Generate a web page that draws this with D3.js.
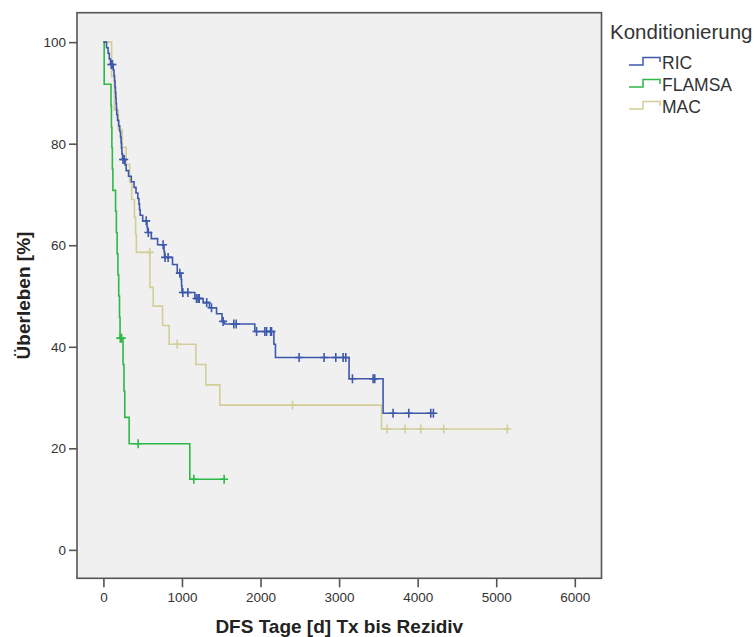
<!DOCTYPE html>
<html>
<head>
<meta charset="utf-8">
<script src="https://cdn.jsdelivr.net/npm/d3@7"></script>
<style>
  html, body { margin: 0; padding: 0; background: #ffffff; }
  svg { display: block; font-family: "Liberation Sans", Arial, sans-serif; }
</style>
</head>
<body>
<svg id="chart" width="754" height="637"></svg>
<script>
// Kaplan-Meier curves: disease-free survival by conditioning regimen.
// Each group: event times (days), survival after each event (%), censoring times, last follow-up.

const groupNames = ["RIC", "FLAMSA", "MAC"];
const groupColors = ["#3E58AC", "#2EB848", "#D3CE97"];

const ricTimes = [40, 60, 75, 90, 125, 135, 142, 148, 153, 158, 162, 166, 170, 180, 195, 208, 218, 225, 230, 236, 244,
  275, 290, 320, 355, 390, 415, 438, 452, 460, 468, 500, 555, 562, 610, 690, 772, 778, 880, 940, 990, 995, 1000,
  1164, 1270, 1350, 1440, 1510, 1540, 1927, 2170, 2190, 3127, 3560];
const ricSurv = [98.9, 97.8, 96.7, 95.6, 94.5, 93.4, 92.3, 91.2, 90.1, 89.0, 87.9, 86.8, 85.7, 84.6, 83.5, 82.4, 81.3, 80.2, 79.1, 78.0, 76.9,
  75.8, 74.7, 73.6, 72.5, 71.4, 70.3, 69.2, 68.1, 67.0, 65.9, 64.8, 63.6, 62.5, 61.3, 60.1, 58.8, 57.6, 56.2, 54.5, 53.3, 52.0, 50.7,
  49.5, 48.7, 47.7, 46.5, 45.0, 44.5, 43.0, 40.5, 37.9, 33.7, 26.9];
const ricCensored = [100, 115, 250, 265, 545, 572, 760, 785, 824, 973, 1011, 1075, 1185, 1206, 1220, 1315, 1376, 1524,
  1660, 1690, 1950, 2055, 2077, 2128, 2140, 2491, 2809, 2958, 3051, 3085, 3170, 3433, 3454, 3687, 3887, 4167, 4200];
const ricEnd = 4200;

const flamsaTimes = [10, 97, 102, 108, 114, 121, 155, 165, 175, 185, 195, 205, 212, 250, 262, 272, 328, 1100];
const flamsaSurv = [91.7, 87.5, 83.3, 79.2, 75.0, 70.8, 66.7, 62.5, 58.3, 54.2, 50.0, 45.8, 41.7, 36.5, 31.3, 26.1, 20.9, 13.9];
const flamsaCensored = [215, 232, 443, 1151, 1537];
const flamsaEnd = 1537;

const macTimes = [105, 140, 190, 240, 290, 335, 360, 395, 410, 420, 592, 634, 753, 837, 1177, 1304, 1482, 3540];
const macSurv = [93.2, 86.6, 82.8, 79.3, 75.9, 72.4, 69.0, 65.5, 62.1, 58.6, 51.7, 48.0, 44.2, 40.5, 36.5, 32.5, 28.5, 23.8];
const macCensored = [590, 939, 2407, 3611, 3840, 4040, 4332, 5142];
const macEnd = 5142;

const xTicks = [0, 1000, 2000, 3000, 4000, 5000, 6000];
const yTicks = [0, 20, 40, 60, 80, 100];

const groups = [
  { times: ricTimes, surv: ricSurv, cens: ricCensored, end: ricEnd },
  { times: flamsaTimes, surv: flamsaSurv, cens: flamsaCensored, end: flamsaEnd },
  { times: macTimes, surv: macSurv, cens: macCensored, end: macEnd }
];

const svg = d3.select("#chart");
const plot = { left: 77, right: 601.5, top: 12.7, bottom: 578.3 };

const x = d3.scaleLinear().domain([-336, 6340]).range([plot.left, plot.right]);
const y = d3.scaleLinear().domain([-5.6, 105.8]).range([plot.bottom, plot.top]);

// plot background and frame
svg.append("rect")
  .attr("x", plot.left).attr("y", plot.top)
  .attr("width", plot.right - plot.left).attr("height", plot.bottom - plot.top)
  .attr("fill", "#f0f0f0").attr("stroke", "#555555").attr("stroke-width", 1.6);

// axes
const yAxis = svg.append("g")
  .attr("transform", `translate(${plot.left},0)`)
  .call(d3.axisLeft(y).tickValues(yTicks).tickFormat(d3.format("d")).tickSize(8).tickPadding(3));
const xAxis = svg.append("g")
  .attr("transform", `translate(0,${plot.bottom})`)
  .call(d3.axisBottom(x).tickValues(xTicks).tickFormat(d3.format("d")).tickSize(9).tickPadding(5));
[yAxis, xAxis].forEach(g => {
  g.select(".domain").remove();
  g.selectAll(".tick line").attr("stroke", "#555555").attr("stroke-width", 1.6);
  g.selectAll(".tick text").attr("fill", "#333333")
    .style("font-size", "13.5px").style("font-family", "'Liberation Sans', Arial, sans-serif");
});

// axis titles
svg.append("text")
  .attr("x", (plot.left + plot.right) / 2).attr("y", 633)
  .attr("text-anchor", "middle")
  .style("font-size", "19px").style("font-weight", "bold").attr("fill", "#222222")
  .text("DFS Tage [d] Tx bis Rezidiv");
svg.append("text")
  .attr("transform", `translate(30,${(plot.top + plot.bottom) / 2}) rotate(-90)`)
  .attr("text-anchor", "middle")
  .style("font-size", "19px").style("font-weight", "bold").attr("fill", "#222222")
  .text("Überleben [%]");

// survival step curves
const stepLine = d3.line()
  .x(d => x(d[0]))
  .y(d => y(d[1]))
  .curve(d3.curveStepAfter);

function survivalAt(g, t) {
  let s = 100;
  for (let i = 0; i < g.times.length; i++) {
    if (g.times[i] <= t) s = g.surv[i];
  }
  return s;
}

const curves = svg.append("g");
// draw in reverse so RIC sits on top
[2, 1, 0].forEach(k => {
  const g = groups[k];
  const pts = [[0, 100]];
  g.times.forEach((t, i) => pts.push([t, g.surv[i]]));
  pts.push([g.end, g.surv[g.surv.length - 1]]);
  const layer = curves.append("g");
  layer.append("path")
    .attr("d", stepLine(pts))
    .attr("fill", "none")
    .attr("stroke", groupColors[k])
    .attr("stroke-width", 1.6);
  // censoring marks
  layer.selectAll("path.cens")
    .data(g.cens)
    .enter().append("path")
    .attr("class", "cens")
    .attr("d", t => {
      const cx = x(t), cy = y(survivalAt(g, t));
      return `M${cx - 4},${cy}H${cx + 4}M${cx},${cy - 4.5}V${cy + 4.5}`;
    })
    .attr("fill", "none")
    .attr("stroke", groupColors[k])
    .attr("stroke-width", 1.6);
});

// legend
const legend = svg.append("g");
legend.append("text")
  .attr("x", 610).attr("y", 39)
  .style("font-size", "20.5px").attr("fill", "#333333")
  .text("Konditionierung");
const legendY = [63, 85, 107];
groupNames.forEach((name, i) => {
  const cy = legendY[i];
  legend.append("path")
    .attr("d", `M629,${cy + 2}H643V${cy - 5.5}H660V${cy - 1}`)
    .attr("fill", "none")
    .attr("stroke", groupColors[i])
    .attr("stroke-width", 1.5);
  legend.append("text")
    .attr("x", 662).attr("y", cy + 6)
    .style("font-size", "17.5px").attr("fill", "#333333")
    .text(name);
});
</script>
</body>
</html>
